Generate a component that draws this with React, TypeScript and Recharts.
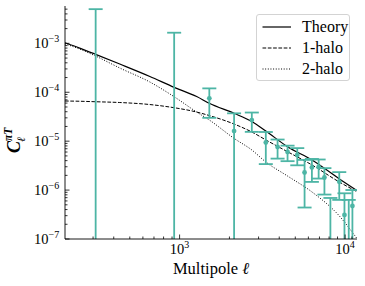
import React from "react";
import { ComposedChart, Line, Scatter, ErrorBar, XAxis, YAxis, Legend } from "recharts";

// model curves, sampled along multipole ell
const MODEL_L = [203, 249, 311, 435, 661, 927, 1268, 1511, 2134, 2732, 3320, 4488, 6310, 9236, 11800];
const THEORY = [1.03e-3, 8.0e-4, 5.96e-4, 3.77e-4, 2.1e-4, 1.26e-4, 8.18e-5, 5.94e-5, 3.71e-5, 2.52e-5, 1.61e-5, 7.7e-6, 4.12e-6, 1.69e-6, 9.7e-7];
const ONE_HALO = [6.62e-5, 6.55e-5, 6.4e-5, 6.17e-5, 5.61e-5, 4.83e-5, 3.94e-5, 3.34e-5, 2.24e-5, 1.54e-5, 1.06e-5, 6.09e-6, 3.26e-6, 1.46e-6, 9.27e-7];
const TWO_HALO = [9.77e-4, 7.65e-4, 5.5e-4, 3.13e-4, 1.62e-4, 8.1e-5, 3.94e-5, 2.71e-5, 1.14e-5, 6.6e-6, 3.75e-6, 1.94e-6, 9.14e-7, 2.95e-7, 1.02e-7];

// measured band powers (negative values fall off the log axis, only their bars show)
const DATA_L = [311, 927, 1512, 2134, 2731, 3318, 3908, 4490, 5140, 5690, 6300, 6920, 7500, 8150, 9220, 9910, 10520, 11070];
const DATA_C = [-1.0e-3, -2.0e-4, 7.5e-5, 1.61e-5, 2.7e-5, 9.4e-6, 7.6e-6, 6.0e-6, 5.21e-6, 2.29e-6, 2.9e-6, 2.97e-6, 1.81e-6, -1.5e-7, 1.48e-6, 3.1e-7, -5e-8, 4.73e-7];
const DATA_ERR = [6.0e-3, 1.85e-3, 4.5e-5, 2.1e-5, 1.15e-5, 6.0e-6, 3.2e-6, 2.1e-6, 2.0e-6, 1.85e-6, 1.43e-6, 1.25e-6, 1.0e-6, 8.4e-7, 8.5e-7, 5.5e-7, 6.8e-7, 5.3e-7];

const X_MAJOR = [1e3, 1e4];
const X_MINOR = [300, 400, 500, 600, 700, 800, 900, 2000, 3000, 4000, 5000, 6000, 7000, 8000, 9000, 11000];
const Y_MAJOR = [1e-7, 1e-6, 1e-5, 1e-4, 1e-3];
const Y_MINOR = [-7, -6, -5, -4, -3].flatMap((e) => [2, 3, 4, 5, 6, 7, 8, 9].map((m) => m * 10 ** e)).filter((v) => v < 5.8e-3);

const X_DOMAIN = [203, 11800];
const Y_DOMAIN = [1e-7, 5.8e-3];

const TEAL = "#4db5a5";
const FONT = "'Liberation Serif', 'Times New Roman', serif";
const FLOOR = 1e-9;

const curve = (vals: number[]) => MODEL_L.map((l, i) => ({ l, c: vals[i] }));

const points = DATA_L.map((l, i) => {
  const c = DATA_C[i];
  const s = DATA_ERR[i];
  const y = c > 0 ? c : FLOOR;
  const lo = Math.max(c - s, FLOOR);
  return { l, c: y, shown: c > 0, err: [y - lo, c + s - y] };
});

const SERIES = [
  { name: "Theory", data: curve(THEORY), dash: undefined, width: 1.2 },
  { name: "1-halo", data: curve(ONE_HALO), dash: "3.7 1.6", width: 1 },
  { name: "2-halo", data: curve(TWO_HALO), dash: "1 1.65", width: 1 },
];

const isMajor = (v: number) => Math.abs(Math.log10(v) - Math.round(Math.log10(v))) < 1e-6;
const expLabel = (v: number) => String(Math.round(Math.log10(v))).replace("-", "\u2212");

function XTick({ x, y, payload }: any) {
  const v = payload.value;
  const major = isMajor(v);
  return (
    <g>
      <line x1={x} x2={x} y1={y} y2={y - (major ? 4.5 : 2.5)} stroke="#000" strokeWidth={0.8} />
      {major && (
        <text x={x} y={y + 15} textAnchor="middle" fontFamily={FONT} fontSize={14.5} fill="#000">
          10<tspan dy={-6} fontSize={10}>{expLabel(v)}</tspan>
        </text>
      )}
    </g>
  );
}

function YTick({ x, y, payload }: any) {
  const v = payload.value;
  const major = isMajor(v);
  return (
    <g>
      <line x1={x} x2={x + (major ? 4.5 : 2.5)} y1={y} y2={y} stroke="#000" strokeWidth={0.8} />
      {major && (
        <text x={x - 31} y={y + 5} textAnchor="start" fontFamily={FONT} fontSize={14.5} fill="#000">
          10<tspan dy={-6} fontSize={10}>{expLabel(v)}</tspan>
        </text>
      )}
    </g>
  );
}

function Dot({ cx, cy, payload }: any) {
  if (!payload.shown) return <g />;
  return <circle cx={cx} cy={cy} r={2.4} fill={TEAL} />;
}

function LegendBox() {
  return (
    <div
      style={{
        position: "relative",
        boxSizing: "border-box",
        width: 94,
        height: 67,
        border: "1px solid #d3d3d3",
        borderRadius: 3,
        background: "rgba(255,255,255,0.85)",
        fontFamily: FONT,
        fontSize: 16,
      }}
    >
      {SERIES.map((s, i) => (
        <div key={s.name} style={{ position: "absolute", left: 0, top: 12.4 + i * 20.8 - 10, height: 20, width: 94 }}>
          <svg width={30} height={20} style={{ position: "absolute", left: 5, top: 0 }}>
            <line x1={0.5} x2={29} y1={10} y2={10} stroke="#000" strokeWidth={s.width} strokeDasharray={s.dash} />
          </svg>
          <span style={{ position: "absolute", left: 45, top: 0, lineHeight: "20px", color: "#000" }}>{s.name}</span>
        </div>
      ))}
    </div>
  );
}

export default function App() {
  return (
    <div style={{ position: "fixed", left: 0, top: 0, background: "#fff" }}>
      <svg width={0} height={0} style={{ position: "absolute" }}>
        <defs>
          <clipPath id="plot-clip">
            <rect x={65} y={6} width={292} height={233} />
          </clipPath>
        </defs>
      </svg>
      <ComposedChart width={365} height={286} margin={{ top: 6, right: 8, left: 0, bottom: 0 }}>
        <XAxis
          dataKey="l"
          type="number"
          scale="log"
          domain={X_DOMAIN}
          allowDataOverflow
          ticks={[...X_MINOR, ...X_MAJOR]}
          interval={0}
          tick={<XTick />}
          tickLine={false}
          tickSize={0}
          tickMargin={0}
          height={47}
          axisLine={{ stroke: "#000", strokeWidth: 0.9 }}
          label={{
            content: () => (
              <text x={211} y={274} textAnchor="middle" fontFamily={FONT} fontSize={16.5} fill="#000">
                Multipole <tspan fontStyle="italic">ℓ</tspan>
              </text>
            ),
          }}
        />
        <XAxis xAxisId="top" orientation="top" type="number" scale="log" domain={X_DOMAIN} allowDataOverflow height={0} tick={false} tickLine={false} axisLine={{ stroke: "#000", strokeWidth: 0.9 }} />
        <YAxis
          dataKey="c"
          type="number"
          scale="log"
          domain={Y_DOMAIN}
          allowDataOverflow
          ticks={[...Y_MINOR, ...Y_MAJOR]}
          interval={0}
          tick={<YTick />}
          tickLine={false}
          tickSize={0}
          tickMargin={0}
          width={65}
          axisLine={{ stroke: "#000", strokeWidth: 0.9 }}
          label={{
            content: () => (
              <text transform="translate(20,153) rotate(-90)" fontFamily={FONT} fontSize={18} fontStyle="italic" fontWeight="bold" fill="#000">
                C<tspan dy={-8} fontSize={11.5}>πT</tspan>
                <tspan dx={-14} dy={13} fontSize={11.5}>ℓ</tspan>
              </text>
            ),
          }}
        />
        <YAxis yAxisId="right" orientation="right" type="number" scale="log" domain={Y_DOMAIN} allowDataOverflow width={0} tick={false} tickLine={false} axisLine={{ stroke: "#000", strokeWidth: 0.9 }} />
        {SERIES.map((s) => (
          <Line
            key={s.name}
            name={s.name}
            data={s.data}
            dataKey="c"
            type="monotone"
            stroke="#000"
            strokeWidth={s.width}
            strokeDasharray={s.dash}
            dot={false}
            isAnimationActive={false}
          />
        ))}
        <Scatter data={points} dataKey="c" shape={<Dot />} isAnimationActive={false}>
          <ErrorBar
            dataKey="err"
            direction="y"
            width={7}
            stroke={TEAL}
            strokeWidth={1.8}
            clipPath="url(#plot-clip)"
            style={{ clipPath: "url(#plot-clip)" }}
            isAnimationActive={false}
          />
        </Scatter>
        <Legend layout="vertical" align="center" verticalAlign="middle" content={<LegendBox />} wrapperStyle={{ left: 256, top: 14, width: 94, height: 67 }} />
      </ComposedChart>
    </div>
  );
}
